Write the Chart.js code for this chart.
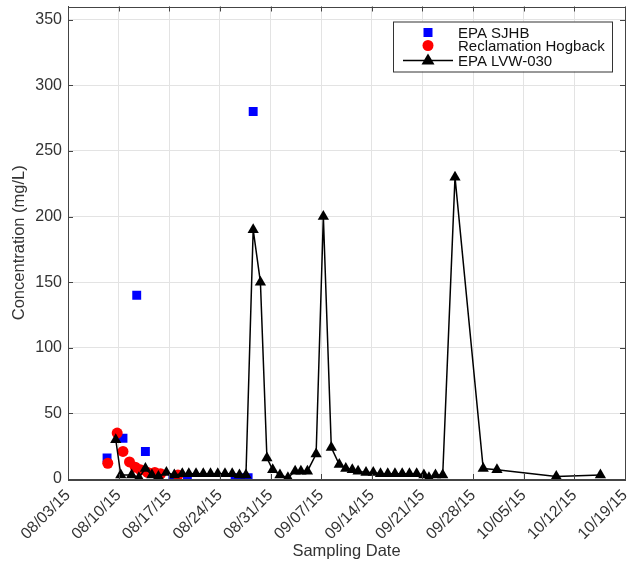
<!DOCTYPE html>
<html>
<head>
<meta charset="utf-8">
<script src="https://cdn.jsdelivr.net/npm/chart.js@4.4.0/dist/chart.umd.min.js"></script>
<style>
  html, body { margin: 0; padding: 0; background: #fff; }
  #wrap { width: 633px; height: 564px; }
</style>
</head>
<body>
<div id="wrap"><canvas id="chart" width="633" height="564"></canvas></div>
<script>
'use strict';

// x values are days after 08/03/15
const dateTicks = ['08/03/15', '08/10/15', '08/17/15', '08/24/15', '08/31/15', '09/07/15',
    '09/14/15', '09/21/15', '09/28/15', '10/05/15', '10/12/15', '10/19/15'];

const sjhbDays = [5.4, 7.6, 9.5, 10.7, 14.5, 16.5, 23.1, 24.0, 24.9, 25.6];
const sjhbConc = [16, 31, 140, 21, 0, 1, 1, 1, 1, 280];

const hogbackDays = [5.5, 6.8, 7.6, 8.5, 9.3, 10.0, 11.0, 12.0, 12.8, 15.2];
const hogbackConc = [12, 35, 21, 13, 9, 7, 5, 5, 4, 3];

const lvwDays = [6.6, 7.3, 8.8, 9.8, 10.7, 11.6, 12.5, 13.6, 14.7, 15.8, 16.7, 17.7, 18.7, 19.7,
    20.7, 21.7, 22.7, 23.7, 24.6, 25.6, 26.6, 27.5, 28.3, 29.3, 30.4, 31.4, 32.2, 33.1, 34.3,
    35.3, 36.4, 37.5, 38.4, 39.3, 40.1, 41.2, 42.2, 43.2, 44.2, 45.2, 46.2, 47.2, 48.2, 49.2,
    49.9, 50.8, 51.8, 53.5, 57.4, 59.3, 67.5, 73.6];
const lvwConc = [30, 3, 3, 1, 8, 3, 2, 5, 3, 4, 4, 4, 4, 4,
    4, 4, 4, 3, 3, 190, 150, 16, 7, 3, 1, 6, 6, 6, 19,
    200, 24, 11, 8, 7, 6, 5, 5, 4, 4, 4, 4, 4, 4, 3,
    1, 3, 3, 230, 8, 7, 2, 3];

const FONT = "'Liberation Sans', Arial, Helvetica, sans-serif";
const TEXT = '#333333';

function toPoints(xs, ys) {
    return xs.map((x, i) => ({x: x, y: ys[i]}));
}

// box round the axes, inward ticks, legend inside the plot
const boxPlugin = {
    id: 'box',
    afterDraw(chart) {
        const ctx = chart.ctx, a = chart.chartArea;
        const xs = chart.scales.x, ys = chart.scales.y;
        ctx.save();
        ctx.strokeStyle = '#444';
        ctx.lineWidth = 1;
        ctx.strokeRect(Math.round(a.left) + 0.5, Math.round(a.top) + 0.5,
            Math.round(a.right - a.left), Math.round(a.bottom - a.top));
        ctx.beginPath();
        xs.ticks.forEach(t => {
            let px = Math.round(xs.getPixelForValue(t.value)) + 0.5;
            ctx.moveTo(px, a.bottom); ctx.lineTo(px, a.bottom - 5);
            ctx.moveTo(px, a.top); ctx.lineTo(px, a.top + 5);
        });
        ys.ticks.forEach(t => {
            let py = Math.round(ys.getPixelForValue(t.value)) + 0.5;
            ctx.moveTo(a.left, py); ctx.lineTo(a.left + 5, py);
            ctx.moveTo(a.right, py); ctx.lineTo(a.right - 5, py);
        });
        ctx.stroke();

        // legend
        const lx = a.right - 232, ly = a.top + 15, lw = 219, lh = 50;
        ctx.fillStyle = '#fff';
        ctx.fillRect(lx, ly, lw, lh);
        ctx.strokeStyle = '#333';
        ctx.strokeRect(lx + 0.5, ly + 0.5, lw, lh);
        const mx = lx + 35, tx = lx + 65;
        const rows = [ly + 11, ly + 24, ly + 39];
        ctx.font = '15px ' + FONT;
        ctx.textBaseline = 'middle';
        ctx.textAlign = 'left';
        chart.data.datasets.forEach((ds, i) => {
            let y = rows[i];
            if (ds.showLine) {
                ctx.strokeStyle = ds.borderColor;
                ctx.lineWidth = 1.5;
                ctx.beginPath();
                ctx.moveTo(lx + 10, y); ctx.lineTo(lx + 60, y);
                ctx.stroke();
            }
            ctx.fillStyle = ds.pointBackgroundColor;
            ctx.beginPath();
            if (ds.pointStyle === 'rect') {
                ctx.rect(mx - 4.5, y - 4.5, 9, 9);
            } else if (ds.pointStyle === 'circle') {
                ctx.arc(mx, y, 5.5, 0, Math.PI * 2);
            } else {
                ctx.moveTo(mx, y - 7);
                ctx.lineTo(mx + 6.5, y + 4);
                ctx.lineTo(mx - 6.5, y + 4);
                ctx.closePath();
            }
            ctx.fill();
            ctx.fillStyle = '#111';
            ctx.fillText(ds.label, tx, y + 1);
        });
        ctx.restore();
    }
};

new Chart(document.getElementById('chart'), {
    type: 'scatter',
    data: {
        datasets: [{
            label: 'EPA SJHB',
            data: toPoints(sjhbDays, sjhbConc),
            pointStyle: 'rect',
            pointRadius: 6.3,
            pointBackgroundColor: '#0000ff',
            pointBorderWidth: 0,
            borderColor: '#0000ff',
            showLine: false,
            order: 3
        }, {
            label: 'Reclamation Hogback',
            data: toPoints(hogbackDays, hogbackConc),
            pointStyle: 'circle',
            pointRadius: 5.5,
            pointBackgroundColor: '#ff0000',
            pointBorderWidth: 0,
            borderColor: '#ff0000',
            showLine: false,
            order: 2
        }, {
            label: 'EPA LVW-030',
            data: toPoints(lvwDays, lvwConc),
            pointStyle: 'triangle',
            pointRadius: 6.5,
            pointBackgroundColor: '#000000',
            pointBorderColor: '#000000',
            pointBorderWidth: 0,
            borderColor: '#000000',
            borderWidth: 1.5,
            showLine: true,
            tension: 0,
            order: 1
        }]
    },
    options: {
        responsive: false,
        devicePixelRatio: 1,
        animation: false,
        layout: {padding: {top: 6, right: 8, left: 0, bottom: 0}},
        plugins: {
            legend: {display: false},
            tooltip: {enabled: false}
        },
        scales: {
            x: {
                type: 'linear',
                min: 0,
                max: 77,
                afterFit: scale => {
                    scale.height = 85;
                    scale.paddingLeft = 0;
                    scale.paddingRight = 0;
                },
                grid: {color: '#e3e3e3', drawTicks: false},
                border: {color: '#444'},
                ticks: {
                    stepSize: 7,
                    autoSkip: false,
                    maxRotation: 45,
                    minRotation: 45,
                    padding: 7,
                    color: TEXT,
                    font: {family: FONT, size: 16},
                    callback: (v, i) => dateTicks[i]
                },
                title: {
                    display: true,
                    text: 'Sampling Date',
                    color: TEXT,
                    font: {family: FONT, size: 16.5},
                    padding: {top: 0, bottom: 3}
                }
            },
            y: {
                min: 0,
                max: 360,
                afterFit: scale => {
                    scale.width = 68;
                    scale.paddingTop = 0;
                    scale.paddingBottom = 0;
                },
                grid: {color: '#e3e3e3', drawTicks: false},
                border: {color: '#444'},
                ticks: {
                    stepSize: 50,
                    includeBounds: false,
                    padding: 6,
                    color: TEXT,
                    font: {family: FONT, size: 16}
                },
                title: {
                    display: true,
                    text: 'Concentration (mg/L)',
                    color: TEXT,
                    font: {family: FONT, size: 16.5},
                    padding: {top: 10, bottom: 0}
                }
            }
        }
    },
    plugins: [boxPlugin]
});
</script>
</body>
</html>
